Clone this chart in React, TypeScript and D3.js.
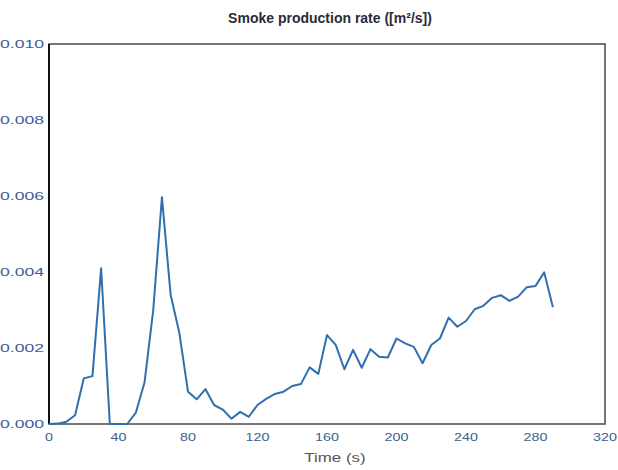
import React, { useEffect, useRef } from 'react';
import * as d3 from 'd3';

// Time samples (s) and smoke production rate (m²/s)
const times = [
  0, 5, 10, 15, 20, 25, 30, 35, 40, 45, 50, 55, 60, 65, 70, 75, 80, 85, 90, 95,
  100, 105, 110, 115, 120, 125, 130, 135, 140, 145, 150, 155, 160, 165, 170, 175,
  180, 185, 190, 195, 200, 205, 210, 215, 220, 225, 230, 235, 240, 245, 250, 255,
  260, 265, 270, 275, 280, 285, 290,
];
const rates = [
  0.0, 0.00001, 0.00006, 0.00023, 0.0012, 0.00126, 0.0041, 0.0, 0.0, 0.0, 0.0003,
  0.0011, 0.003, 0.00597, 0.0034, 0.0024, 0.00085, 0.00065, 0.00092, 0.0005,
  0.00038, 0.00014, 0.00032, 0.00019, 0.0005, 0.00066, 0.00079, 0.00085, 0.001,
  0.00105, 0.00149, 0.00132, 0.00234, 0.00208, 0.00144, 0.00195, 0.00148, 0.00197,
  0.00177, 0.00175, 0.00225, 0.00212, 0.00203, 0.0016, 0.00208, 0.00225, 0.0028,
  0.00256, 0.00271, 0.00302, 0.00311, 0.00332, 0.00339, 0.00324, 0.00335, 0.0036,
  0.00363, 0.00399, 0.00307,
];
const xTicks = [0, 40, 80, 120, 160, 200, 240, 280, 320];
const yTicks = [0, 0.002, 0.004, 0.006, 0.008, 0.01];

const title = 'Smoke production rate ([m²/s])';
const xLabel = 'Time (s)';

const WIDTH = 618;
const HEIGHT = 470;
const margin = { top: 44, right: 13, bottom: 46, left: 49 };
const FONT = 'Liberation Sans, Arial, sans-serif';

const App: React.FC = () => {
  const svgRef = useRef<SVGSVGElement>(null);

  useEffect(() => {
    if (!svgRef.current) return;
    const svg = d3.select(svgRef.current);
    svg.selectAll('*').remove();

    const x0 = margin.left;
    const x1 = WIDTH - margin.right;
    const y0 = HEIGHT - margin.bottom;
    const y1 = margin.top;

    const xScale = d3.scaleLinear().domain([0, 320]).range([x0, x1]);
    const yScale = d3.scaleLinear().domain([0, 0.01]).range([y0, y1]);

    const data = times.map((t, i) => ({ t, v: rates[i] }));

    // Title
    svg.append('text')
      .attr('x', 330)
      .attr('y', 23)
      .attr('text-anchor', 'middle')
      .attr('font-family', FONT)
      .attr('font-size', '14px')
      .attr('font-weight', 'bold')
      .attr('fill', '#2b2b3a')
      .text(title);

    // Frame
    svg.append('rect')
      .attr('x', x0)
      .attr('y', y1)
      .attr('width', x1 - x0)
      .attr('height', y0 - y1)
      .attr('fill', 'none')
      .attr('stroke', '#4a4a4a')
      .attr('stroke-width', 1.5);

    svg.append('line')
      .attr('x1', x0)
      .attr('x2', x0)
      .attr('y1', y1)
      .attr('y2', y0)
      .attr('stroke', '#111')
      .attr('stroke-width', 2);

    // X tick labels (the reference text is stretched sideways)
    const fmtX = d3.format('d');
    svg.append('g')
      .selectAll('text')
      .data(xTicks)
      .enter()
      .append('text')
      .attr('transform', d => `translate(${xScale(d)},${y0 + 17}) scale(1.3,1)`)
      .attr('text-anchor', 'middle')
      .attr('font-family', FONT)
      .attr('font-size', '11px')
      .attr('fill', '#3d5f8c')
      .text(d => fmtX(d));

    // Y tick labels, partly cut off at the left edge like the reference
    const fmtY = d3.format('.3f');
    svg.append('g')
      .selectAll('text')
      .data(yTicks)
      .enter()
      .append('text')
      .attr('transform', d => `translate(${x0 - 5},${yScale(d)}) scale(1.6,1)`)
      .attr('text-anchor', 'end')
      .attr('dy', '0.35em')
      .attr('font-family', FONT)
      .attr('font-size', '11px')
      .attr('fill', '#3a5e92')
      .text(d => fmtY(d));

    // X axis title
    svg.append('text')
      .attr('transform', `translate(335,462) scale(1.3,1)`)
      .attr('text-anchor', 'middle')
      .attr('font-family', FONT)
      .attr('font-size', '13px')
      .attr('fill', '#555')
      .text(xLabel);

    // Data line
    const line = d3.line<{ t: number; v: number }>()
      .x(d => xScale(d.t))
      .y(d => yScale(d.v));

    svg.append('path')
      .datum(data)
      .attr('fill', 'none')
      .attr('stroke', '#2f6fae')
      .attr('stroke-width', 2)
      .attr('stroke-linejoin', 'round')
      .attr('d', line);
  }, []);

  return (
    <div style={{ position: 'absolute', left: 0, top: 0, width: WIDTH, height: HEIGHT, background: '#fff' }}>
      <svg ref={svgRef} width={WIDTH} height={HEIGHT} className="block" />
    </div>
  );
};

export default App;
